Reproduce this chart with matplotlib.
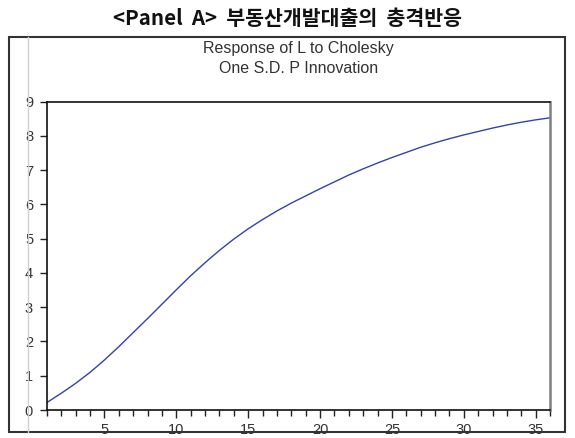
import matplotlib.pyplot as plt
from matplotlib.patches import Rectangle
from matplotlib.lines import Line2D
import numpy as np

# impulse response of L to a one S.D. shock in P, periods 1..36
periods = np.arange(1, 37)
response = [0.22, 0.49, 0.78, 1.10, 1.46, 1.85, 2.26, 2.67, 3.09, 3.51,
            3.92, 4.30, 4.66, 4.99, 5.29, 5.56, 5.81, 6.04, 6.25, 6.46,
            6.66, 6.86, 7.04, 7.21, 7.37, 7.52, 7.67, 7.80, 7.92, 8.03,
            8.13, 8.23, 8.32, 8.40, 8.47, 8.53]
xticks_major = [5, 10, 15, 20, 25, 30, 35]
yticks = list(range(0, 10))

panel_title = '<Panel  A>  부동산개발대출의  충격반응'
sub_title = 'Response of L to Cholesky\nOne S.D. P Innovation'

plt.rcParams['font.family'] = ['Liberation Sans', 'DejaVu Sans']

fig = plt.figure(figsize=(5.75, 4.38), dpi=100)

# outer frame and the faint guide line
fig.patches.append(Rectangle((0.0157, 0.0137), 0.967, 0.9018, transform=fig.transFigure,
                             fill=False, edgecolor='#333333', linewidth=1.5))
fig.lines.append(Line2D([0.0487, 0.0487], [0.0137, 0.9155], transform=fig.transFigure,
                        color='#d0d0d0', linewidth=1.0))

fig.text(0.5, 0.958, panel_title, ha='center', va='center', fontsize=14.8,
         fontweight='bold', family=['Noto Sans CJK KR', 'DejaVu Sans'], color='#111111')

ax = fig.add_axes([0.0817, 0.0639, 0.8748, 0.7039])
ax.plot(periods, response, color='#3344a8', linewidth=1.0)

ax.set_xlim(1, 36)
ax.set_ylim(0, 9)
ax.set_xticks(xticks_major)
ax.set_xticks(periods, minor=True)
ax.set_yticks(yticks)
ax.tick_params(axis='both', which='major', direction='out', length=6, width=1,
               labelsize=10.5, colors='#222222', labelcolor='#333333')
ax.tick_params(axis='y', length=5, pad=5)
ax.tick_params(axis='x', pad=3)
ax.tick_params(axis='x', which='minor', direction='out', length=4, width=1, color='#222222')
for lab in ax.get_xticklabels() + ax.get_yticklabels():
    lab.set_fontfamily('Liberation Sans')

for side in ['left', 'bottom', 'top']:
    ax.spines[side].set_color('#111111')
    ax.spines[side].set_linewidth(1.2)
ax.spines['right'].set_color('#808080')
ax.spines['right'].set_linewidth(1.8)

fig.text(0.519, 0.866, sub_title, ha='center', va='center', fontsize=11.5,
         color='#333333', linespacing=1.45)

fig.savefig('out.png', dpi=100)
